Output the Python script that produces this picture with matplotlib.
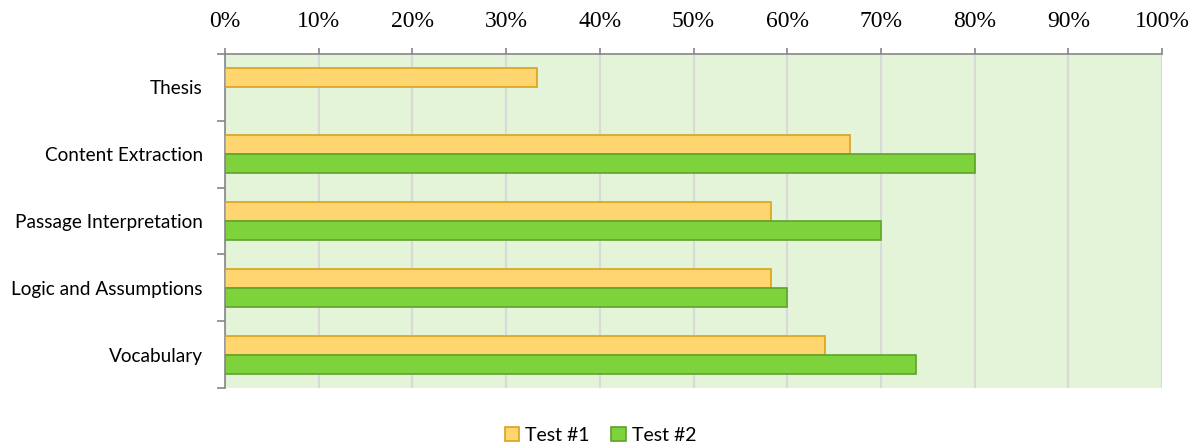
import numpy as np
import matplotlib
matplotlib.use("Agg")
import matplotlib.pyplot as plt
from matplotlib.ticker import PercentFormatter, FixedLocator


#---- Donnees (Thesis n'a pas de valeur pour le test #2)
categories = ["Thesis", "Content Extraction", "Passage Interpretation",
              "Logic and Assumptions", "Vocabulary"]
test1 = [33.3, 66.7, 58.3, 58.3, 64.0]
test2 = [np.nan, 80.0, 70.0, 60.0, 73.7]
series_names = ["Test #1", "Test #2"]

#---- Styles
fill1, edge1 = "#FFD56F", "#D9A21B"
fill2, edge2 = "#7ED23C", "#5EA22D"
bg_color = "#E3F4D9"
axis_color = "#868686"
grid_color = "#D9D9D9"


#---- Figure
fig = plt.figure(figsize=(12.01, 4.48), dpi=100)
ax = fig.add_axes([225/1201, 1 - 388/448, (1162 - 225)/1201, (388 - 54)/448])
ax.set_facecolor(bg_color)

y = np.arange(len(categories))
h = 0.285
ax.barh(y - h/2, test1, height=h, color=fill1, edgecolor=edge1, linewidth=1.2,
        label=series_names[0], zorder=3)
ax.barh(y + h/2, test2, height=h, color=fill2, edgecolor=edge2, linewidth=1.2,
        label=series_names[1], zorder=3)

ax.set_ylim(len(categories) - 0.5, -0.5)
ax.set_xlim(0, 100)

#---- Axe x en haut
ax.xaxis.tick_top()
ax.set_xticks(np.arange(0, 101, 10))
ax.xaxis.set_major_formatter(PercentFormatter(decimals=0))
ax.tick_params(axis="x", direction="out", length=4.5, width=1.2, color=axis_color,
               pad=11, labelsize=17)
for lab in ax.get_xticklabels():
    lab.set_family("Liberation Serif")
ax.grid(axis="x", color=grid_color, linewidth=1.5, zorder=0)
ax.set_axisbelow(True)

#---- Axe y : labels au centre, ticks aux frontieres
ax.set_yticks(y)
ax.set_yticklabels(categories, family="Lato", fontsize=13.7)
ax.tick_params(axis="y", which="major", length=0, pad=16)
ax.yaxis.set_minor_locator(FixedLocator(np.arange(-0.5, len(categories), 1)))
ax.tick_params(axis="y", which="minor", direction="out", length=6, width=1.2,
               color=axis_color)

for side in ["right", "bottom"]:
    ax.spines[side].set_visible(False)
for side in ["left", "top"]:
    ax.spines[side].set_color(axis_color)
    ax.spines[side].set_linewidth(1.2)

#---- Legende
leg = fig.legend(loc="center", bbox_to_anchor=(0.5, 1 - 435/448), ncol=2,
                 frameon=False, prop={"family": "Lato", "size": 14},
                 handlelength=0.75, handleheight=0.75, handletextpad=0.3,
                 columnspacing=1.1)

fig.savefig("out.png", dpi=100)
